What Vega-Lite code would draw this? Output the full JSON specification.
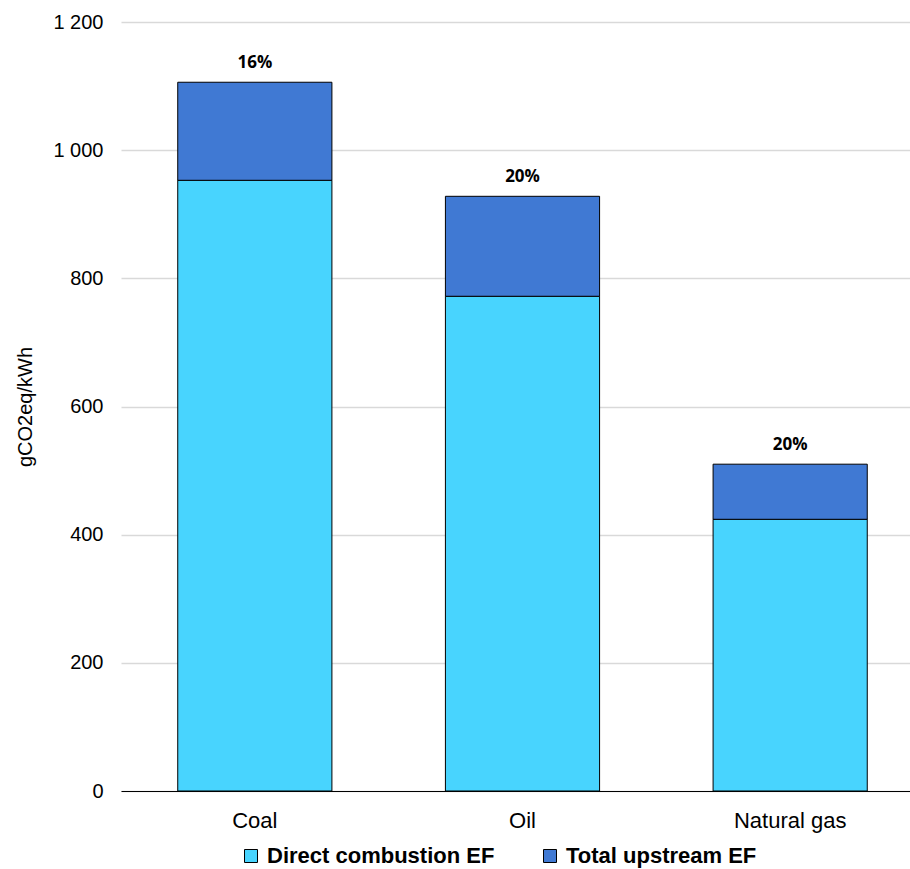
{
  "$schema": "https://vega.github.io/schema/vega-lite/v6.json",
  "width": 803,
  "height": 769,
  "autosize": {"type": "none"},
  "padding": {"left": 121, "top": 22, "right": 0, "bottom": 78},
  "background": "white",
  "config": {
    "view": {"stroke": null},
    "font": "Liberation Sans",
    "axis": {"labelFont": "Liberation Sans", "titleFont": "Liberation Sans"}
  },
  "datasets": {
    "bars": [
      {"fuel": "Coal", "component": "Direct combustion EF", "value": 953},
      {"fuel": "Coal", "component": "Total upstream EF", "value": 153},
      {"fuel": "Oil", "component": "Direct combustion EF", "value": 772},
      {"fuel": "Oil", "component": "Total upstream EF", "value": 156},
      {"fuel": "Natural gas", "component": "Direct combustion EF", "value": 424},
      {"fuel": "Natural gas", "component": "Total upstream EF", "value": 86}
    ],
    "labels": [
      {"fuel": "Coal", "total": 1106, "label": "16%"},
      {"fuel": "Oil", "total": 928, "label": "20%"},
      {"fuel": "Natural gas", "total": 510, "label": "20%"}
    ]
  },
  "encoding": {
    "x": {
      "field": "fuel",
      "type": "nominal",
      "sort": ["Coal", "Oil", "Natural gas"],
      "scale": {"paddingInner": 0.424, "paddingOuter": 0.212},
      "axis": {
        "title": null,
        "labelAngle": 0,
        "labelFontSize": 22,
        "labelColor": "#000000",
        "labelPadding": 19,
        "ticks": false,
        "domainColor": "#000000",
        "domainWidth": 1
      }
    }
  },
  "layer": [
    {
      "data": {"name": "bars"},
      "mark": {"type": "bar", "stroke": "#000000", "strokeWidth": 1},
      "encoding": {
        "y": {
          "field": "value",
          "type": "quantitative",
          "stack": "zero",
          "scale": {"domain": [0, 1200]},
          "axis": {
            "title": "gCO2eq/kWh",
            "titleFontSize": 20,
            "titleFontWeight": "normal",
            "titleColor": "#000000",
            "titlePadding": 17,
            "values": [0, 200, 400, 600, 800, 1000, 1200],
            "labelExpr": "replace(format(datum.value, ','), ',', ' ')",
            "labelFontSize": 20,
            "labelColor": "#000000",
            "labelPadding": 18,
            "ticks": false,
            "domain": false,
            "gridColor": "#d9d9d9",
            "gridWidth": 1.5
          }
        },
        "color": {
          "field": "component",
          "type": "nominal",
          "sort": ["Direct combustion EF", "Total upstream EF"],
          "scale": {
            "domain": ["Direct combustion EF", "Total upstream EF"],
            "range": ["#48D4FE", "#4079D3"]
          },
          "legend": {
            "title": null,
            "orient": "none",
            "legendX": 119,
            "legendY": 823,
            "direction": "horizontal",
            "symbolType": "square",
            "symbolSize": 169,
            "symbolStrokeColor": "#000000",
            "symbolStrokeWidth": 1,
            "symbolOffset": 0,
            "labelOffset": 5,
            "labelFontSize": 22,
            "labelFontWeight": "bold",
            "labelColor": "#000000",
            "labelFont": "Liberation Sans",
            "labelLimit": 400,
            "columnPadding": 44
          }
        },
        "order": {"field": "component", "sort": "ascending"}
      }
    },
    {
      "data": {"name": "labels"},
      "mark": {"type": "text", "font": "Open Sans", "fontWeight": "bold", "fontSize": 17, "dy": -19, "color": "#000000"},
      "encoding": {
        "y": {"field": "total", "type": "quantitative"},
        "text": {"field": "label"}
      }
    }
  ]
}
